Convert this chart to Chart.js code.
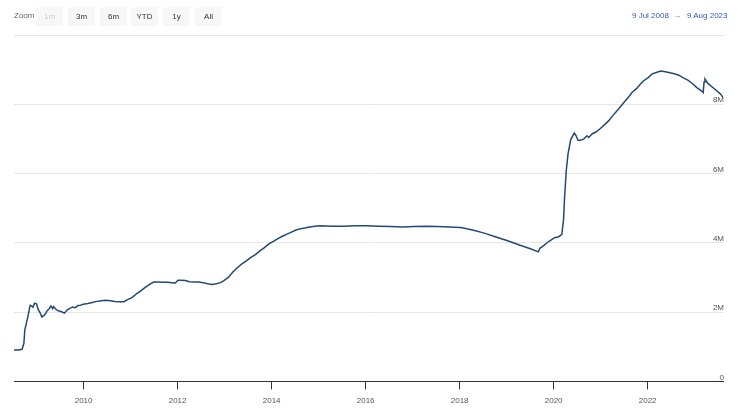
<!DOCTYPE html>
<html>
<head>
<meta charset="utf-8">
<title>Balance sheet</title>
<script src="https://cdn.jsdelivr.net/npm/chart.js@4.4.0/dist/chart.umd.min.js"></script>
<style>
  body { margin:0; background:#fff; font-family:"Liberation Sans", Arial, Helvetica, sans-serif; }
  #wrap { position:relative; width:740px; height:413px; }
  #myChart { position:absolute; left:0; top:0; }
  .zoomlbl { position:absolute; left:14px; top:11px; font-size:8px; color:#666; }
  .btn { position:absolute; top:7px; width:27px; height:19px; line-height:19px; background:#f7f7f7;
         border-radius:2px; text-align:center; font-size:8px; color:#333; }
  .btn.off { color:#ccc; }
  .rng { position:absolute; top:11px; font-size:8px; color:#335cad; }
</style>
</head>
<body>
<div id="wrap">
  <canvas id="myChart" width="740" height="413"></canvas>
  <div class="zoomlbl">Zoom</div>
  <div class="btn off" style="left:36px">1m</div>
  <div class="btn" style="left:68px">3m</div>
  <div class="btn" style="left:100px">6m</div>
  <div class="btn" style="left:131px">YTD</div>
  <div class="btn" style="left:163px">1y</div>
  <div class="btn" style="left:195px">All</div>
  <div class="rng" style="left:632px">9 Jul 2008</div>
  <div class="rng" style="left:673px;color:#666">&rarr;</div>
  <div class="rng" style="left:687px">9 Aug 2023</div>
</div>
<script>
// weekly-ish readings, values in millions
var dates = [
  '2008-07-09','2008-08-13','2008-09-10','2008-09-24','2008-10-01','2008-10-22','2008-11-12','2008-11-19',
  '2008-12-03','2008-12-17','2008-12-31','2009-01-14','2009-01-28','2009-02-11','2009-02-25','2009-03-11',
  '2009-03-25','2009-04-08','2009-04-22','2009-05-06','2009-05-13','2009-06-03','2009-06-24','2009-07-15',
  '2009-08-05','2009-08-26','2009-09-16','2009-10-07','2009-10-28','2009-11-18','2009-12-09','2009-12-30',
  '2010-02-03','2010-03-10','2010-04-14','2010-05-19','2010-06-23','2010-07-28','2010-09-01','2010-10-06',
  '2010-11-10','2010-12-08','2011-01-12','2011-02-16','2011-03-23','2011-04-27','2011-06-01','2011-06-29',
  '2011-08-03','2011-09-07','2011-10-12','2011-11-16','2011-12-14','2012-01-04','2012-01-25','2012-02-29',
  '2012-04-04','2012-05-09','2012-06-13','2012-07-18','2012-08-22','2012-09-26','2012-10-31','2012-11-28',
  '2012-12-26','2013-01-30','2013-03-06','2013-04-10','2013-05-15','2013-06-19','2013-07-24','2013-08-28',
  '2013-10-02','2013-11-06','2013-12-11','2014-01-15','2014-02-19','2014-03-26','2014-04-30','2014-06-04',
  '2014-07-09','2014-08-13','2014-09-17','2014-10-22','2014-12-03','2015-01-14','2015-04-15','2015-07-15',
  '2015-10-14','2016-01-13','2016-04-13','2016-07-13','2016-10-12','2017-01-11','2017-04-12','2017-07-12',
  '2017-10-11','2018-01-10','2018-04-11','2018-07-11','2018-10-10','2019-01-09','2019-04-10','2019-07-10',
  '2019-09-04','2019-09-18','2019-10-16','2019-11-13','2019-12-11','2020-01-08','2020-02-05','2020-03-04',
  '2020-03-18','2020-03-25','2020-04-08','2020-04-22','2020-05-13','2020-06-10','2020-06-24','2020-07-08',
  '2020-07-29','2020-08-26','2020-09-16','2020-09-30','2020-10-28','2020-11-25','2020-12-30','2021-02-03',
  '2021-03-03','2021-04-07','2021-05-05','2021-06-02','2021-07-07','2021-08-04','2021-09-01','2021-10-06',
  '2021-11-03','2021-12-01','2022-01-05','2022-02-02','2022-03-02','2022-04-13','2022-05-18','2022-06-22',
  '2022-07-27','2022-08-31','2022-10-05','2022-11-09','2022-12-14','2023-01-18','2023-02-22','2023-03-08',
  '2023-03-15','2023-03-22','2023-04-12','2023-05-17','2023-06-21','2023-07-19','2023-08-09'
];
var values = [
  905000,905000,925000,1100000,1480000,1820000,2200000,2190000,
  2140000,2260000,2240000,2070000,1980000,1860000,1900000,1950000,
  2050000,2090000,2180000,2100000,2160000,2070000,2030000,2010000,
  1970000,2060000,2110000,2150000,2130000,2190000,2200000,2230000,
  2250000,2280000,2310000,2330000,2340000,2330000,2310000,2300000,
  2300000,2360000,2420000,2530000,2620000,2720000,2810000,2870000,
  2870000,2860000,2860000,2850000,2840000,2920000,2920000,2910000,
  2880000,2870000,2870000,2850000,2820000,2800000,2820000,2850000,
  2910000,3000000,3160000,3280000,3390000,3480000,3580000,3660000,
  3770000,3860000,3970000,4040000,4120000,4190000,4250000,4310000,
  4370000,4410000,4430000,4460000,4480000,4490000,4480000,4480000,
  4490000,4490000,4480000,4470000,4460000,4470000,4480000,4470000,
  4460000,4440000,4370000,4280000,4170000,4060000,3940000,3820000,
  3740000,3850000,3920000,4010000,4080000,4150000,4170000,4240000,
  4670000,5250000,6080000,6570000,6980000,7170000,7090000,6960000,
  6960000,7010000,7090000,7040000,7150000,7200000,7300000,7420000,
  7520000,7680000,7800000,7920000,8080000,8200000,8340000,8450000,
  8570000,8680000,8770000,8870000,8910000,8960000,8940000,8910000,
  8880000,8840000,8760000,8700000,8600000,8480000,8390000,8340000,
  8640000,8730000,8610000,8500000,8390000,8300000,8200000
];
var tickYears = [2010, 2012, 2014, 2016, 2018, 2020, 2022];
var yTicks = [0, 2000000, 4000000, 6000000, 8000000, 10000000];
var startDate = '2008-07-09';
var endDate = '2023-08-09';

function toYear(s) {
  var p = s.split('-');
  var y = +p[0];
  var t = Date.UTC(y, +p[1] - 1, +p[2]);
  var a = Date.UTC(y, 0, 1), b = Date.UTC(y + 1, 0, 1);
  return y + (t - a) / (b - a);
}

var points = dates.map(function (d, i) { return { x: toYear(d), y: values[i] }; });

Chart.defaults.font.family = '"Liberation Sans", Arial, Helvetica, sans-serif';

var ctx = document.getElementById('myChart').getContext('2d');
var myChart = new Chart(ctx, {
  type: 'line',
  data: {
    datasets: [{
      data: points,
      borderColor: '#234a73',
      borderWidth: 1.5,
      pointRadius: 0,
      tension: 0,
      fill: false
    }]
  },
  options: {
    responsive: false,
    animation: false,
    devicePixelRatio: 1,
    layout: { padding: { left: 14, right: 15, top: 35, bottom: 0 } },
    plugins: { legend: { display: false }, tooltip: { enabled: false } },
    scales: {
      x: {
        type: 'linear',
        min: toYear(startDate),
        max: toYear(endDate),
        afterBuildTicks: function (scale) {
          scale.ticks = tickYears.map(function (v) { return { value: v }; });
        },
        grid: { drawOnChartArea: false, drawTicks: true, tickLength: 8, color: '#333' },
        border: { display: true, color: '#333', width: 1 },
        ticks: {
          padding: 7,
          maxRotation: 0,
          autoSkip: false,
          color: '#555',
          font: { size: 8 },
          callback: function (v) { return String(v); }
        }
      },
      y: {
        position: 'right',
        min: 0,
        max: 10000000,
        afterBuildTicks: function (scale) {
          scale.ticks = yTicks.map(function (v) { return { value: v }; });
        },
        grid: {
          drawTicks: false,
          color: function (c) { return c.tick && c.tick.value === 0 ? 'rgba(0,0,0,0)' : '#e6e6e6'; }
        },
        border: { display: false },
        ticks: {
          mirror: true,
          padding: 1,
          labelOffset: -4,
          color: '#555',
          font: { size: 8 },
          callback: function (v) {
            if (v === 0) return '0';
            if (v === 10000000) return '';
            return (v / 1000000) + 'M';
          }
        }
      }
    }
  }
});
</script>
</body>
</html>
